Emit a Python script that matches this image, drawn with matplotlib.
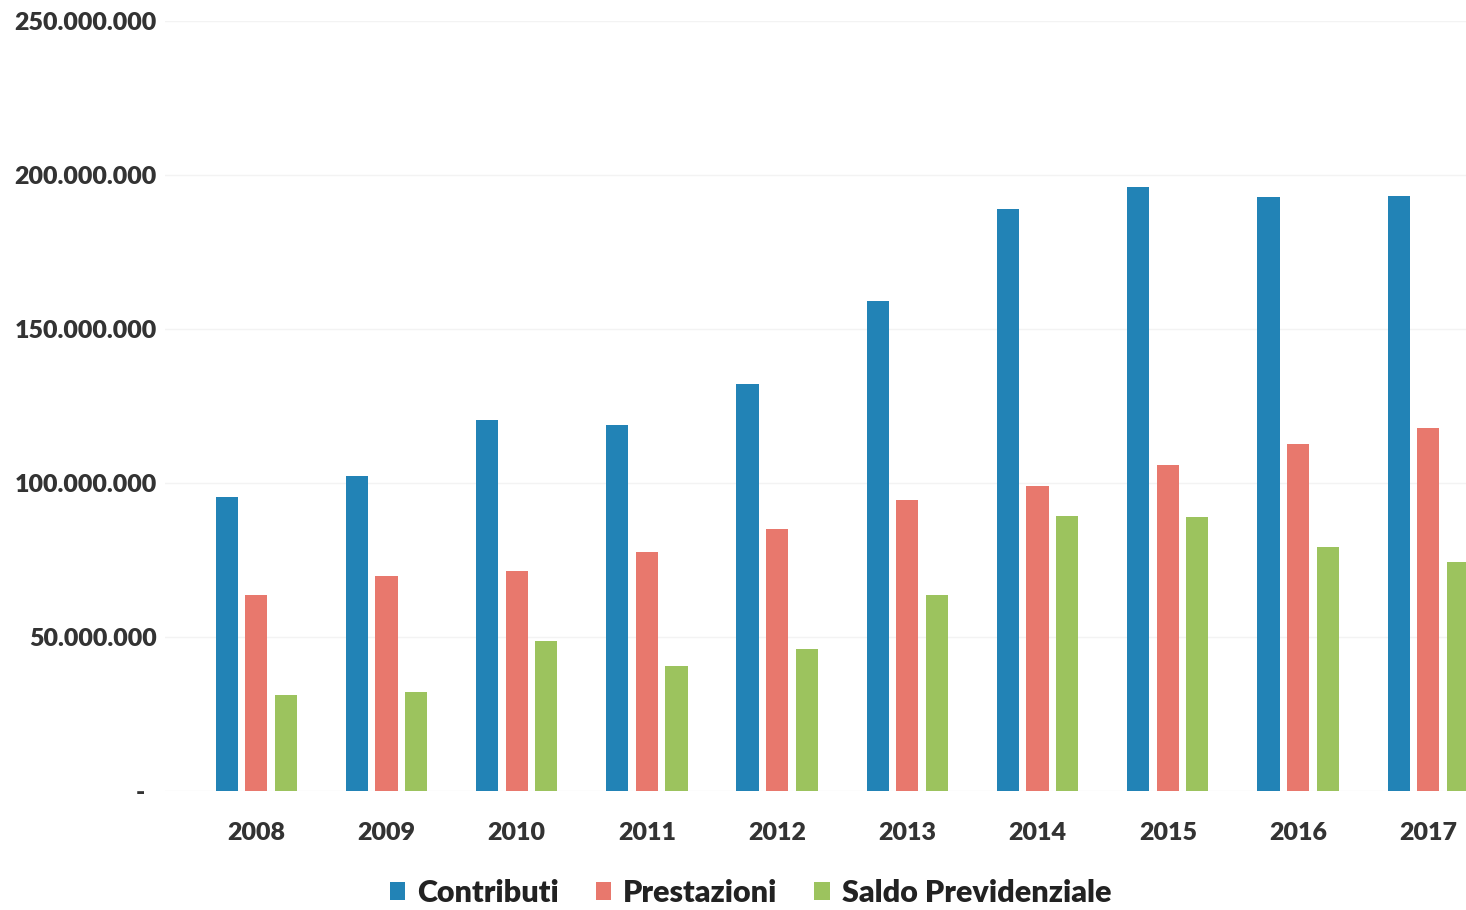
import matplotlib.pyplot as plt
import numpy as np
from matplotlib.ticker import FuncFormatter

anni = ['2008', '2009', '2010', '2011', '2012', '2013', '2014', '2015', '2016', '2017']
contributi = [95.5, 102.3, 120.5, 118.8, 132.1, 159.1, 189.0, 196.1, 192.9, 193.2]
prestazioni = [63.6, 69.8, 71.4, 77.6, 85.1, 94.5, 99.0, 105.8, 112.7, 117.9]
saldo = [31.2, 32.1, 48.7, 40.6, 46.1, 63.6, 89.3, 89.0, 79.2, 74.4]

# milioni -> unita
contributi = np.array(contributi) * 1e6
prestazioni = np.array(prestazioni) * 1e6
saldo = np.array(saldo) * 1e6

plt.rcParams['font.family'] = ['Lato', 'DejaVu Sans']

fig = plt.figure(figsize=(14.66, 9.10), dpi=100)
ax = fig.add_axes([0.1126, 0.1308, 0.8874, 0.8461])

x = np.arange(len(anni))
step = 0.227
w = 0.17
ax.bar(x - step, contributi, w, color='#2283b6', label='Contributi')
ax.bar(x, prestazioni, w, color='#e8786d', label='Prestazioni')
ax.bar(x + step, saldo, w, color='#9cc35e', label='Saldo Previdenziale')

ax.set_xlim(-0.70, 9.29)
ax.set_ylim(0, 250e6)
ax.set_yticks(np.arange(0, 250e6 + 1, 50e6))


def fmt(v, pos):
    if v == 0:
        return '-  '
    return f'{int(v):,}'.replace(',', '.')


ax.yaxis.set_major_formatter(FuncFormatter(fmt))
ax.set_xticks(x)
ax.set_xticklabels(anni)
ax.tick_params(axis='y', length=0, pad=6, labelsize=18, labelcolor='#333333')
ax.tick_params(axis='x', length=0, pad=22, labelsize=18, labelcolor='#333333')
for lab in ax.get_xticklabels() + ax.get_yticklabels():
    lab.set_fontweight('heavy')

ax.grid(axis='y', color='#f3f3f3', linewidth=1)
ax.set_axisbelow(True)
for s in ax.spines.values():
    s.set_visible(False)

leg = fig.legend(loc='center', bbox_to_anchor=(0.512, 0.019), ncol=3, frameon=False,
                 prop={'size': 22, 'weight': 'heavy'}, handlelength=0.5, handleheight=0.5,
                 handletextpad=0.4, columnspacing=1.2, labelcolor='#222222')

fig.savefig('out.png', dpi=100)
